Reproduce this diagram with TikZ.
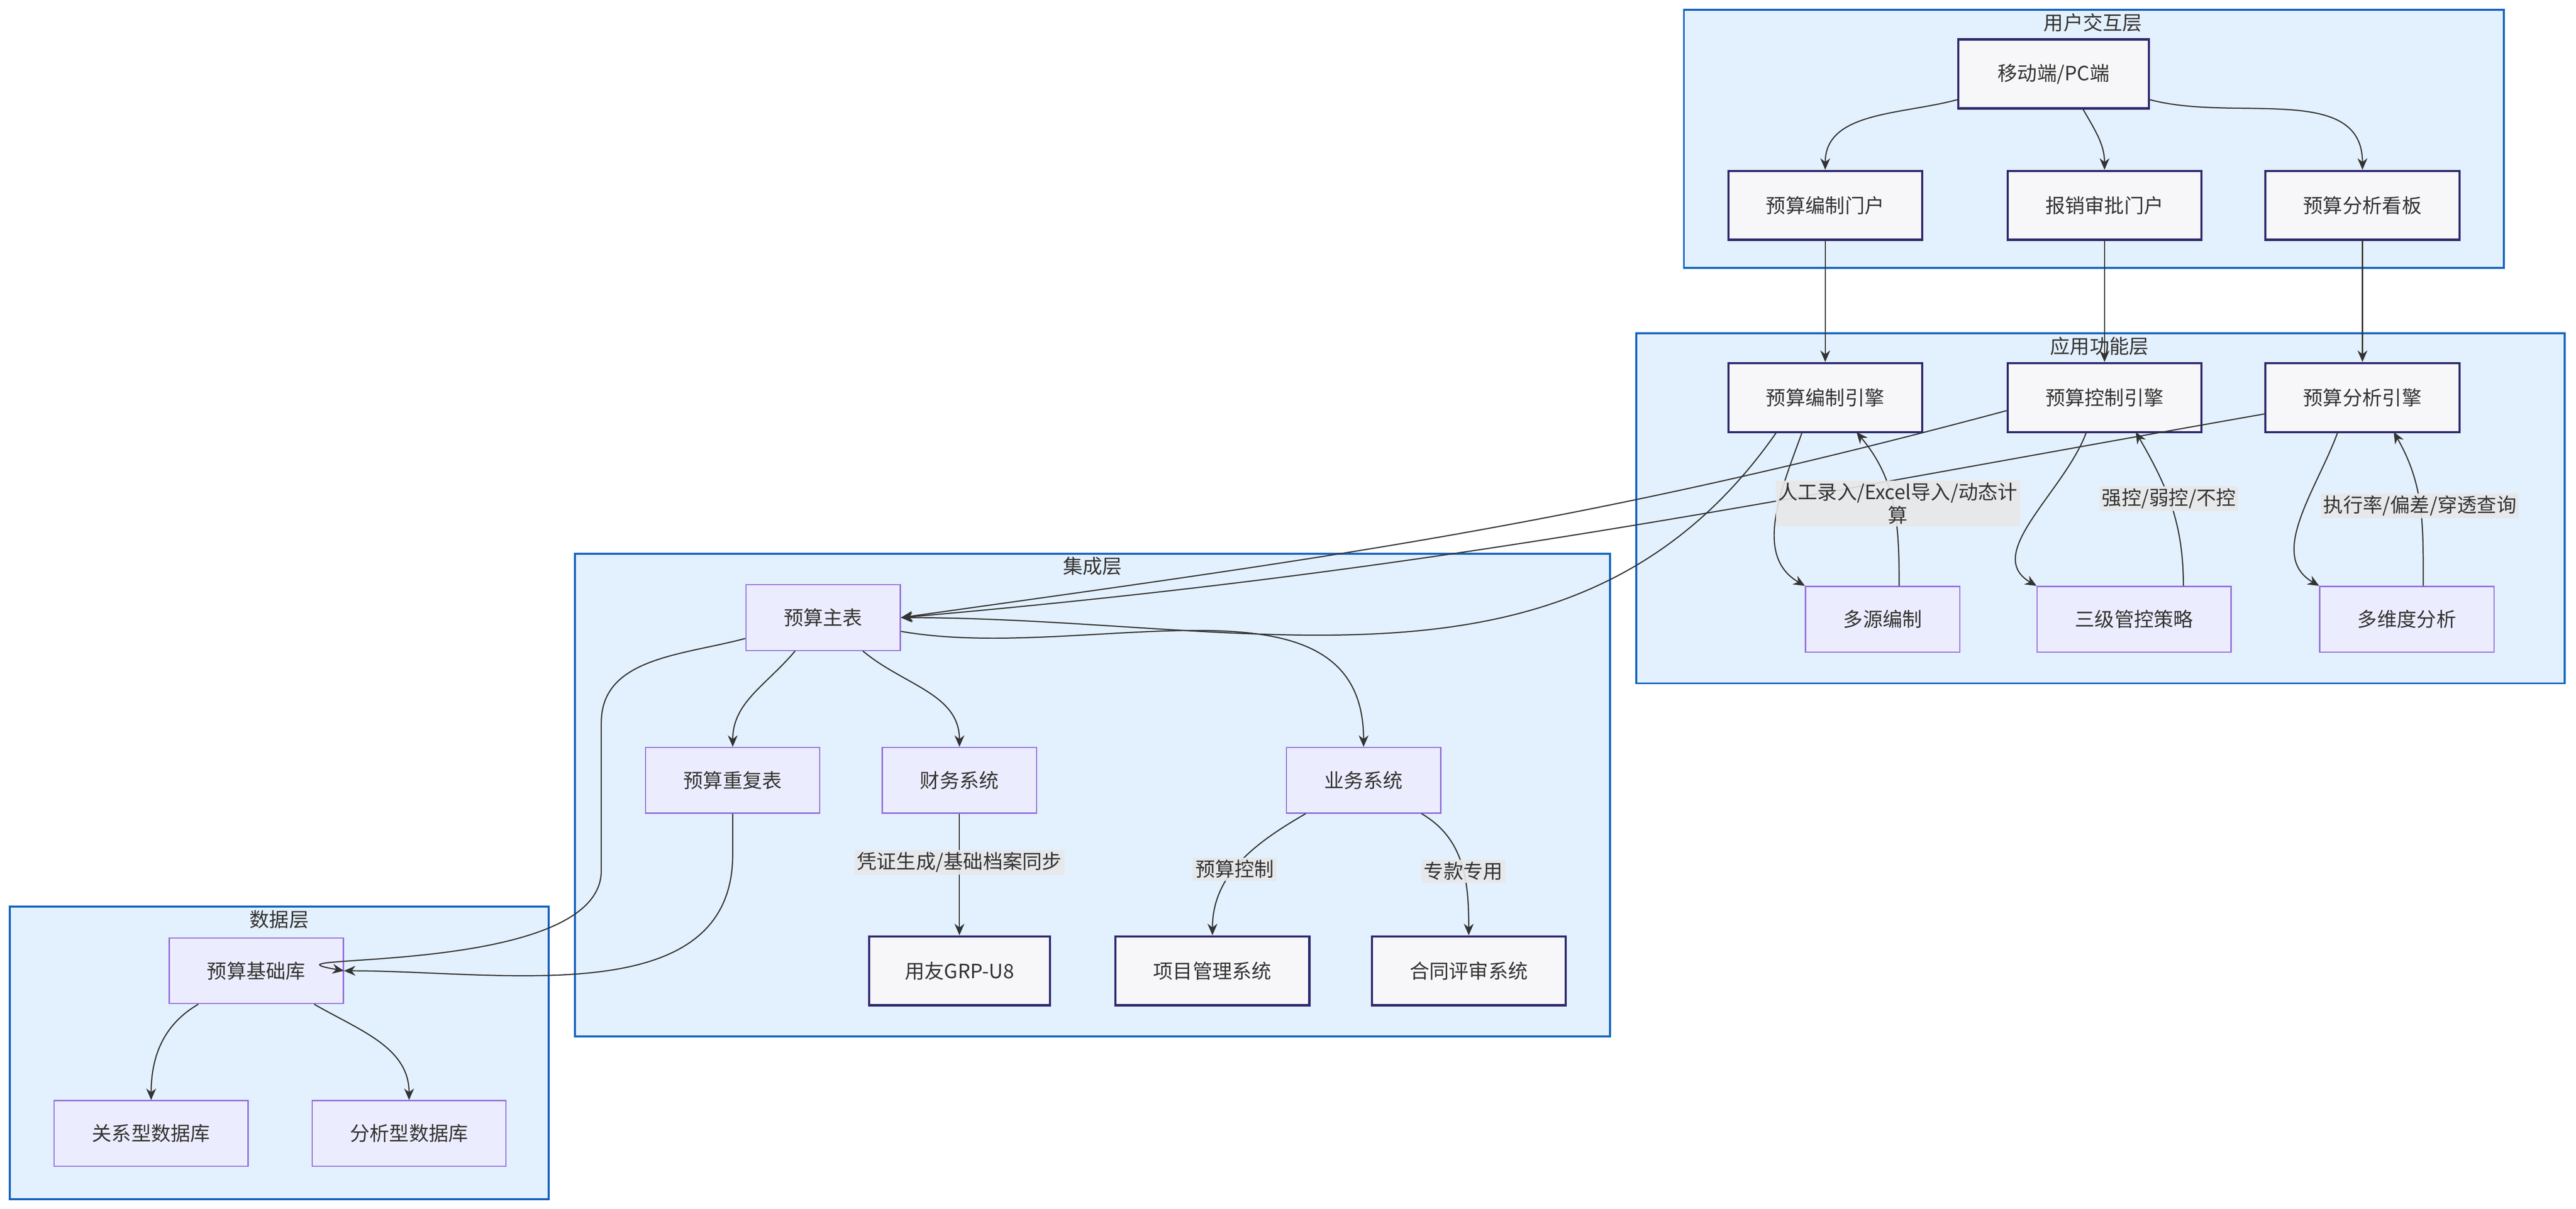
\documentclass[tikz,border=0pt]{standalone}
\usepackage{fontspec}
\setmainfont{Noto Sans CJK SC}
\usetikzlibrary{positioning}
\usetikzlibrary{arrows.meta}
\definecolor{clfill}{HTML}{E3F0FD}
\definecolor{clline}{HTML}{1565C0}
\definecolor{darkline}{HTML}{2E2A6E}
\definecolor{darkfill}{HTML}{F7F7FA}
\definecolor{purpline}{HTML}{9370DB}
\definecolor{purpfill}{HTML}{ECECFF}
\definecolor{lblfill}{HTML}{E8E8E8}
\definecolor{txt}{HTML}{333333}
\begin{document}
\begin{tikzpicture}[x=1pt,y=-1pt,
    font=\fontsize{12}{14}\selectfont, text=txt,
    ]
% -------------------------------------------------
\tikzset{
  layer/.style={draw=clline, fill=clfill, line width=1.2pt},
  title/.style={anchor=north, inner sep=1pt},
  base/.style={draw, rectangle, align=center, minimum height=42pt, inner sep=2pt},
  svc/.style={base, draw=darkline, fill=darkfill, line width=1.3pt},
  sub/.style={base, draw=purpline, fill=purpfill, line width=0.7pt, minimum height=40pt},
  line/.style={draw=txt, line width=0.7pt, -{Stealth[length=7pt,width=6pt]}},
  lbl/.style={fill=lblfill, fill opacity=0.9, text opacity=1, inner sep=1.5pt, align=center},
}
    \useasboundingbox (0,0) rectangle (1568,736);
    % layers
    \draw [layer] (1025,6) rectangle (1524,163);
    \node [title] (t1) at (1274,7) {用户交互层};
    \draw [layer] (996,203) rectangle (1561,416);
    \node [title] (t2) at (1278,204) {应用功能层};
    \draw [layer] (350,337) rectangle (980,631);
    \node [title] (t3) at (665,338) {集成层};
    \draw [layer] (6,552) rectangle (334,730);
    \node [title] (t4) at (170,553) {数据层};

    % user layer
    \node [svc, minimum width=116pt] (pc) at (1250,45) {移动端/PC端};
    \node [svc, minimum width=118pt] (pbz) at (1111,125) {预算编制门户};
    \node [svc, minimum width=118pt] (pbx) at (1281,125) {报销审批门户};
    \node [svc, minimum width=118pt] (pfx) at (1438,125) {预算分析看板};

    % application layer
    \node [svc, minimum width=118pt] (ebz) at (1111,242) {预算编制引擎};
    \node [svc, minimum width=118pt] (ekz) at (1281,242) {预算控制引擎};
    \node [svc, minimum width=118pt] (efx) at (1438,242) {预算分析引擎};
    \node [sub, minimum width=94pt] (dybz) at (1146,377) {多源编制};
    \node [sub, minimum width=118pt] (sjgk) at (1299,377) {三级管控策略};
    \node [sub, minimum width=106pt] (dwd) at (1465,377) {多维度分析};

    % integration layer
    \node [sub, minimum width=94pt] (zb) at (501,376) {预算主表};
    \node [sub, minimum width=106pt] (cfb) at (446,475) {预算重复表};
    \node [sub, minimum width=94pt] (cw) at (584,475) {财务系统};
    \node [sub, minimum width=94pt] (yw) at (830,475) {业务系统};
    \node [svc, minimum width=110pt] (u8) at (584,591) {用友GRP-U8};
    \node [svc, minimum width=118pt] (xm) at (738,591) {项目管理系统};
    \node [svc, minimum width=118pt] (ht) at (894,591) {合同评审系统};

    % data layer
    \node [sub, minimum width=106pt] (jc) at (156,591) {预算基础库};
    \node [sub, minimum width=118pt] (gx) at (92,690) {关系型数据库};
    \node [sub, minimum width=118pt] (fx) at (249,690) {分析型数据库};

    % connectors
    \draw [line] (pc) to[out=195,in=90] (pbz.north);
    \draw [line] (pc.south) ++(18,0) to[out=-60,in=90] (pbx.north);
    \draw [line] (pc) to[out=-15,in=90] (pfx.north);
    \path [line] (pbz) -- (ebz);
    \path [line] (pbx) -- (ekz);
    \path [line] (pfx) -- (efx);

    \draw [line] (ebz.south) ++(-30,0) to[out=-125,in=0] (zb.east);
    \draw [line] (ekz.west) ++(0,8) to[out=195,in=8] (zb.east);
    \draw [line] (efx.west) ++(0,10) to[out=190,in=5] (zb.east);

    \draw [line] (1097,263) to[out=-110,in=150] (dybz.north west);
    \draw [line] (dybz.north) ++(10,0) to[out=90,in=-50] node [lbl, pos=0.5, xshift=3pt] {人工录入/Excel导入/动态计\\算} (1130,263);
    \draw [line] (1270,263) to[out=-110,in=150] (sjgk.north west);
    \draw [line] (sjgk.north) ++(30,0) to[out=90,in=-60] node [lbl, pos=0.55] {强控/弱控/不控} (1300,263);
    \draw [line] (1423,263) to[out=-110,in=150] (dwd.north west);
    \draw [line] (dwd.north) ++(10,0) to[out=90,in=-60] node [lbl, pos=0.5] {执行率/偏差/穿透查询} (1457,263);

    \draw [line] (zb) to[out=-130,in=90] (cfb.north);
    \draw [line] (zb) to[out=-40,in=90] (cw.north);
    \draw [line] (zb) to[out=-10,in=90] (yw.north);
    \draw [line] (zb) to[out=195,in=90] (366,440) -- (366,530) to[out=-90,in=170] (jc.east);
    \draw [line] (cfb) -- (446,520) to[out=-90,in=0] (jc.east);

    \draw [line] (cw) -- node [lbl, pos=0.4] {凭证生成/基础档案同步} (u8);
    \draw [line] (yw) to[out=-150,in=90] node [lbl, pos=0.55] {预算控制} (xm.north);
    \draw [line] (yw) to[out=-30,in=90] node [lbl, pos=0.55] {专款专用} (ht.north);

    \draw [line] (jc) to[out=-150,in=90] (gx.north);
    \draw [line] (jc) to[out=-30,in=90] (fx.north);
\end{tikzpicture}
\end{document}
